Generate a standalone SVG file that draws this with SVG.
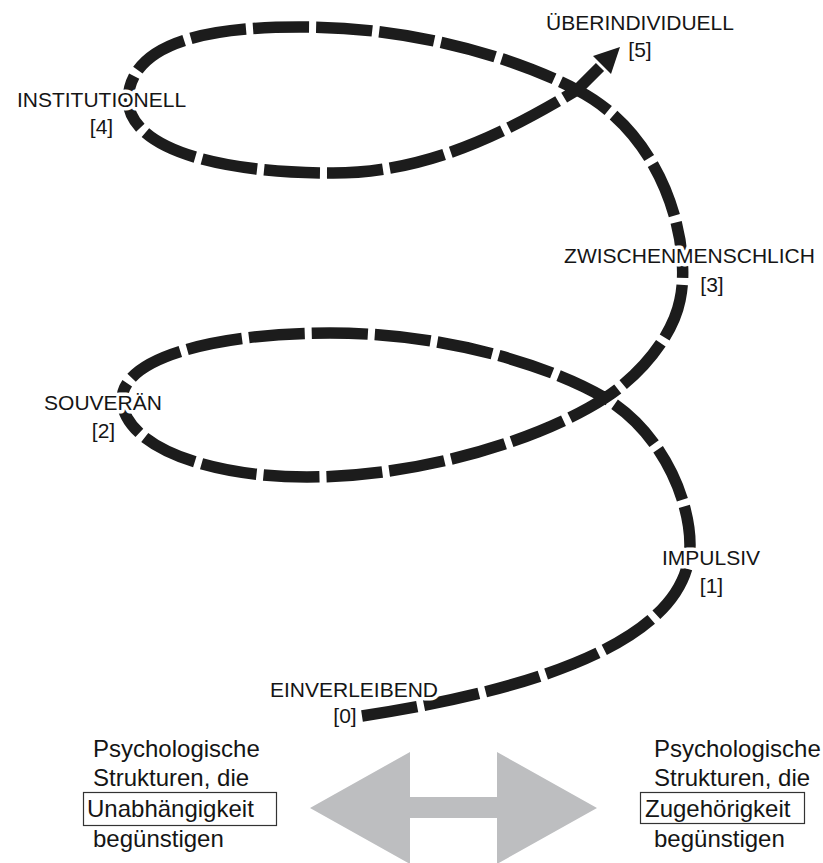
<svg xmlns="http://www.w3.org/2000/svg" width="823" height="863" viewBox="0 0 823 863">
<style>
  .lbl { font-family: "Liberation Sans", Arial, sans-serif; font-size: 21px; fill: #151515; text-anchor: middle; }
  .halo { stroke: #ffffff; stroke-width: 7px; stroke-linejoin: round; paint-order: stroke; }
  .body { font-family: "Liberation Sans", Arial, sans-serif; font-size: 24px; fill: #151515; }
  .spiral { fill: none; stroke: #1c1c1c; stroke-width: 11.5; stroke-dasharray: 56 7; stroke-linecap: butt; }
  .box { fill: none; stroke: #333; stroke-width: 1.2; }
</style>
<rect width="823" height="863" fill="#ffffff"/>

<g id="connectors">
  <path class="spiral" d="M362,716 C500,695 690,650 690,545 C690,500 662,432 605,398 C558,370 455,333 330,333 C225,333 122,355 122,400 C124,445 205,477 307,477 C420,477 540,440 605,398 C635,379 672,340 680,300 C692,245 665,135 577,90 C530,65 430,28 307,27 C200,26 130,45 128,100 C130,148 215,173 333,173 C430,173 510,130 577,90 L600,67"/>
  <polygon points="620,47 593,56 611,74" fill="#1c1c1c"/>
</g>

<g id="double-arrow">
  <polygon points="310,808 410,752 410,797 497,797 497,752 597,808 497,864 497,818 410,818 410,864" fill="#bdbec0"/>
</g>

<g id="node-0">
  <text class="lbl halo" x="354" y="697">EINVERLEIBEND</text>
  <text class="lbl" x="345" y="723">[0]</text>
</g>
<g id="node-1">
  <text class="lbl halo" x="711" y="565">IMPULSIV</text>
  <text class="lbl" x="711.5" y="593">[1]</text>
</g>
<g id="node-2">
  <text class="lbl halo" x="103" y="410">SOUVERÄN</text>
  <text class="lbl" x="103.5" y="438">[2]</text>
</g>
<g id="node-3">
  <text class="lbl halo" x="689.5" y="263">ZWISCHENMENSCHLICH</text>
  <text class="lbl" x="712" y="292">[3]</text>
</g>
<g id="node-4">
  <text class="lbl halo" x="101.5" y="107">INSTITUTIONELL</text>
  <text class="lbl" x="101.5" y="134">[4]</text>
</g>
<g id="node-5">
  <text class="lbl halo" x="640" y="30">ÜBERINDIVIDUELL</text>
  <text class="lbl" x="640" y="57">[5]</text>
</g>

<g id="left-caption">
  <text class="body" x="93" y="757">Psychologische</text>
  <text class="body" x="93" y="786">Strukturen, die</text>
  <rect class="box" x="83.5" y="792.5" width="193" height="33"/>
  <text class="body" x="87" y="817">Unabhängigkeit</text>
  <text class="body" x="93" y="847">begünstigen</text>
</g>
<g id="right-caption">
  <text class="body" x="654" y="757">Psychologische</text>
  <text class="body" x="654" y="786">Strukturen, die</text>
  <rect class="box" x="640.5" y="792.5" width="164" height="31"/>
  <text class="body" x="645" y="817">Zugehörigkeit</text>
  <text class="body" x="654" y="847">begünstigen</text>
</g>
</svg>
